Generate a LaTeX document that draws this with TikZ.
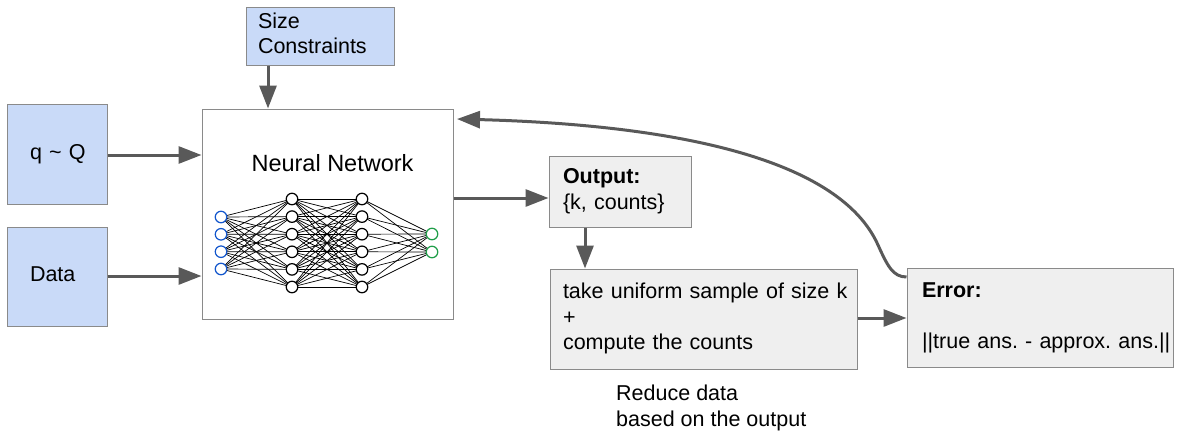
\documentclass[tikz,border=0pt]{standalone}
\usepackage{fontspec}
\setmainfont{Liberation Sans}
\usetikzlibrary{arrows.meta}
\frenchspacing
\definecolor{boxblue}{HTML}{C9DAF8}
\definecolor{boxgray}{HTML}{EFEFEF}
\definecolor{edgegray}{HTML}{8A8A8A}
\definecolor{arrgray}{HTML}{595959}
\definecolor{inblue}{HTML}{1155CC}
\definecolor{outgreen}{HTML}{1E9E48}
\newcommand{\padtext}[2]{\hspace*{#1pt}\begin{tabular}{@{}l@{}}#2\end{tabular}}
\tikzset{
  tbox/.style={draw=edgegray, line width=1pt, rectangle, align=left, inner xsep=0pt, inner ysep=0pt,
    font=\fontsize{21.5}{25.5}\selectfont},
  bluebox/.style={tbox, fill=boxblue},
  graybox/.style={tbox, fill=boxgray},
  conn/.style={draw=arrgray, line width=3pt, -{Triangle[length=23pt,width=17pt]}},
  neuron/.style={circle, draw=black, line width=1.2pt, minimum size=11.5pt, inner sep=0pt, fill=white},
  syn/.style={draw=black, line width=0.7pt},
}
\begin{document}
\begin{tikzpicture}[x=1pt,y=-1pt]
\useasboundingbox (0,0) rectangle (1177,431);
% boxes
\node[bluebox, text width=148pt, minimum height=58pt] (size) at (320,36) {\padtext{12}{Size\\Constraints}};
\node[bluebox, text width=100pt, minimum height=100pt] (q) at (57,154) {\padtext{23}{q \textasciitilde{} Q}};
\node[bluebox, text width=100pt, minimum height=99pt] (data) at (57,276.5) {\padtext{23}{Data}};
\node[draw=edgegray, line width=1pt, fill=white, minimum width=251pt, minimum height=210pt, inner sep=0pt] (nn) at (327.5,214) {};
\node[font=\fontsize{23.5}{28}\selectfont, inner sep=0pt] (title) at (332.5,163) {Neural Network};
\node[graybox, text width=142pt, minimum height=71pt] (out) at (620,191.5) {\padtext{14}{\textbf{Output:}\\\{k, counts\}}};
\node[graybox, text width=307pt, minimum height=100pt] (samp) at (703.5,319) {\padtext{13}{take uniform sample of size k\\+\\compute the counts}};
\node[graybox, text width=266pt, minimum height=99pt] (err) at (1040,317.5) {\padtext{15}{\textbf{Error:}\\ \\||true ans. - approx. ans.||}};
\node[font=\fontsize{21.5}{25.5}\selectfont, align=left, anchor=north west, inner sep=0pt] (reduce) at (616,385) {Reduce data\\based on the output};
% neural net drawing
\foreach \i/\y in {1/217,2/234.3,3/251.7,4/269} {\coordinate (a\i) at (221,\y);}
\foreach \i/\y in {1/199,2/216.6,3/234.2,4/251.8,5/269.4,6/287} {\coordinate (b\i) at (292,\y); \coordinate (c\i) at (362,\y);}
\foreach \i/\y in {1/234,2/252} {\coordinate (d\i) at (432,\y);}
\foreach \i in {1,...,4} \foreach \j in {1,...,6} \draw[syn] (a\i) -- (b\j);
\foreach \i in {1,...,6} \foreach \j in {1,...,6} \draw[syn] (b\i) -- (c\j);
\foreach \i in {1,...,6} \foreach \j in {1,2} \draw[syn] (c\i) -- (d\j);
\foreach \i in {1,...,4} \node[neuron, draw=inblue] (na\i) at (a\i) {};
\foreach \i in {1,...,6} {\node[neuron] (nb\i) at (b\i) {}; \node[neuron] (nc\i) at (c\i) {};}
\foreach \i in {1,2} \node[neuron, draw=outgreen] (nd\i) at (d\i) {};
% connectors
\draw[conn] (q.east |- 0,155) -- (nn.west |- 0,155);
\draw[conn] (data.east |- 0,276) -- (nn.west |- 0,276);
\draw[conn] (size.south -| 268,0) -- (nn.north -| 268,0);
\draw[conn] (nn.east |- 0,198) -- (out.west |- 0,198);
\draw[conn] (out.south -| 585,0) -- (samp.north -| 585,0);
\draw[conn] (samp.east |- 0,318) -- (err.west |- 0,318);
\coordinate (fb) at (457,119);
\draw[conn] (err.north west |- 0,277) .. controls (893,277) and (887.5,266) .. (878,245)
   .. controls (840,160) and (680,125) .. (fb);
\end{tikzpicture}
\end{document}
